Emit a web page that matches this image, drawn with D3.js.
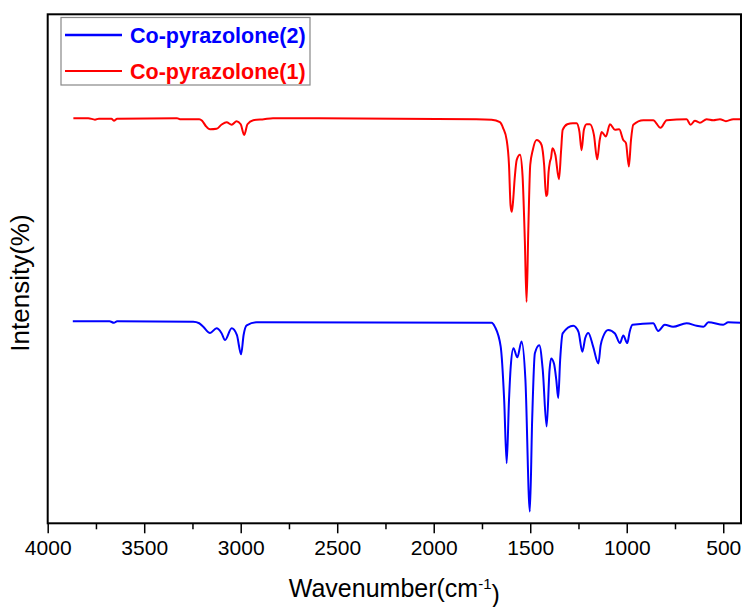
<!DOCTYPE html>
<html>
<head>
<meta charset="utf-8">
<script src="https://cdn.jsdelivr.net/npm/d3@7/dist/d3.min.js"></script>
<style>
  html, body { margin: 0; padding: 0; background: #fff; }
  svg { display: block; font-family: Arial, "Liberation Sans", sans-serif; }
</style>
</head>
<body>
<svg id="chart" width="743" height="607"></svg>
<script>
// FTIR spectra, wavenumber (cm-1) and stacked intensity (arbitrary units)
const seriesNames = ["Co-pyrazolone(2)", "Co-pyrazolone(1)"];
const seriesColors = ["#0000ff", "#ff0000"];

const wavenumber1 = [3867,3790,3755,3735,3670,3657,3640,3330,3315,3215,3200,3180,3159,3125,3100,3073,3047,3021,3000,2982,2965,2935,2880,2833,1780,1700,1657,1640,1622,1610,1602,1596,1590,1580,1570,1553,1540,1528,1519,1510,1500,1487,1467,1455,1441,1428,1418,1412,1405,1398,1392,1385,1370,1351,1340,1332,1308,1280,1260,1245,1234,1222,1208,1191,1170,1153,1140,1130,1108,1087,1061,1039,1018,1004,989,978,966,914,863,825,793,690,669,647,621,586,552,517,486,448,408];
const intensity1 = [79.6,79.6,79.3,79.5,79.5,79.1,79.5,79.6,79.4,79.4,79.1,78.0,77.4,77.5,78.3,78.8,78.3,79.0,78.4,76.3,78.4,79.2,79.4,79.6,79.4,79.3,78.8,77.6,75.3,70.4,62.5,61.2,62.8,68.0,71.4,72.4,68.4,55.6,43.5,57.6,70.4,73.3,75.3,75.1,74.3,70.4,64.3,64.6,69.0,71.0,71.8,73.7,72.4,67.6,73.3,77.3,78.4,78.6,78.6,76.9,73.3,77.3,78.4,78.4,76.3,71.5,75.3,76.9,76.0,78.4,77.3,77.4,75.3,74.7,70.1,75.3,78.3,79.2,79.2,77.7,79.2,79.4,78.3,79.1,78.7,79.4,79.2,79.4,79.0,79.4,79.4];

const wavenumber2 = [3870,3680,3657,3640,3246,3215,3194,3159,3125,3100,3081,3047,3020,2998,2985,2969,2917,1700,1683,1653,1635,1622,1610,1601,1587,1567,1545,1525,1502,1490,1476,1453,1435,1415,1400,1392,1377,1365,1355,1345,1332,1277,1250,1230,1215,1199,1174,1147,1135,1122,1096,1061,1035,1018,997,985,970,863,837,803,760,690,638,603,577,500,474,408];
const intensity2 = [39.7,39.7,39.4,39.7,39.6,39.3,38.6,37.4,38.3,37.4,36.0,38.3,37.0,33.2,37.0,38.9,39.5,39.4,38.6,34.7,24.2,11.8,24.2,30.8,34.4,32.6,35.7,28.2,2.3,20.3,33.4,35.0,30.1,19.0,30.1,32.4,31.4,28.2,24.6,32.1,37.3,38.8,37.6,33.7,36.4,37.4,34.7,31.4,35.0,36.7,38.0,37.3,35.4,36.9,35.4,37.6,39.0,39.3,37.8,39.0,38.6,39.3,38.8,38.6,39.5,39.0,39.5,39.4];

const xMajorTicks = [4000, 3500, 3000, 2500, 2000, 1500, 1000, 500];
const xMinorTicks = [3750, 3250, 2750, 2250, 1750, 1250, 750];

const svg = d3.select("#chart");
const plot = { left: 47.7, right: 741, top: 14.3, bottom: 523.3 };

const x = d3.scaleLinear().domain([4000, 408]).range([plot.left, plot.right]);
const y = d3.scaleLinear().domain([0, 100]).range([plot.bottom, plot.top]);

// minor ticks
svg.append("g")
  .attr("transform", `translate(0,${plot.bottom})`)
  .call(d3.axisBottom(x).tickValues(xMinorTicks).tickSize(6).tickFormat(""))
  .call(g => g.select(".domain").remove())
  .call(g => g.selectAll("line").attr("stroke", "#000").attr("stroke-width", 1.5));

// major ticks with labels
svg.append("g")
  .attr("transform", `translate(0,${plot.bottom})`)
  .call(d3.axisBottom(x).tickValues(xMajorTicks).tickSize(10).tickPadding(7).tickFormat(d3.format("d")))
  .call(g => g.select(".domain").remove())
  .call(g => g.selectAll("line").attr("stroke", "#000").attr("stroke-width", 1.5))
  .call(g => g.selectAll("text")
    .attr("fill", "#000")
    .style("font-size", "21px")
    .style("font-family", "Arial, 'Liberation Sans', sans-serif"));

// spectra
const line = d3.line()
  .x(d => x(d[0]))
  .y(d => y(d[1]))
  .curve(d3.curveMonotoneX);

const spectra = [
  d3.zip(wavenumber2, intensity2),
  d3.zip(wavenumber1, intensity1)
];

svg.append("g")
  .selectAll("path")
  .data(spectra)
  .join("path")
  .attr("d", line)
  .attr("fill", "none")
  .attr("stroke", (d, i) => seriesColors[i])
  .attr("stroke-width", 2)
  .attr("stroke-linejoin", "round");

// plot frame
svg.append("rect")
  .attr("x", plot.left)
  .attr("y", plot.top)
  .attr("width", plot.right - plot.left)
  .attr("height", plot.bottom - plot.top)
  .attr("fill", "none")
  .attr("stroke", "#000")
  .attr("stroke-width", 2);

// legend
const legend = svg.append("g");
legend.append("rect")
  .attr("x", 61).attr("y", 17.5)
  .attr("width", 249).attr("height", 67.5)
  .attr("fill", "#fff")
  .attr("stroke", "#888")
  .attr("stroke-width", 1.2);

const legendRows = legend.selectAll("g.row")
  .data(seriesNames)
  .join("g")
  .attr("class", "row")
  .attr("transform", (d, i) => `translate(0,${35 + i * 36})`);

legendRows.append("line")
  .attr("x1", 65).attr("x2", 122)
  .attr("y1", 0).attr("y2", 0)
  .attr("stroke", (d, i) => seriesColors[i])
  .attr("stroke-width", (d, i) => i === 0 ? 2.5 : 1.8);

legendRows.append("text")
  .attr("x", 130)
  .attr("y", 0)
  .attr("dy", "0.36em")
  .attr("fill", (d, i) => seriesColors[i])
  .style("font-size", "21.5px")
  .style("font-weight", "bold")
  .text(d => d);

// axis titles
const xTitle = svg.append("text")
  .attr("x", (plot.left + plot.right) / 2)
  .attr("y", 597)
  .attr("text-anchor", "middle")
  .style("font-size", "25px")
  .attr("fill", "#000");
xTitle.append("tspan").text("Wavenumber(cm");
xTitle.append("tspan").attr("dy", "-0.55em").style("font-size", "15px").text("-1");
xTitle.append("tspan").attr("dy", "0.55em").text(")");

svg.append("text")
  .attr("transform", "translate(29,283) rotate(-90)")
  .attr("text-anchor", "middle")
  .style("font-size", "26px")
  .attr("fill", "#000")
  .text("Intensity(%)");
</script>
</body>
</html>
